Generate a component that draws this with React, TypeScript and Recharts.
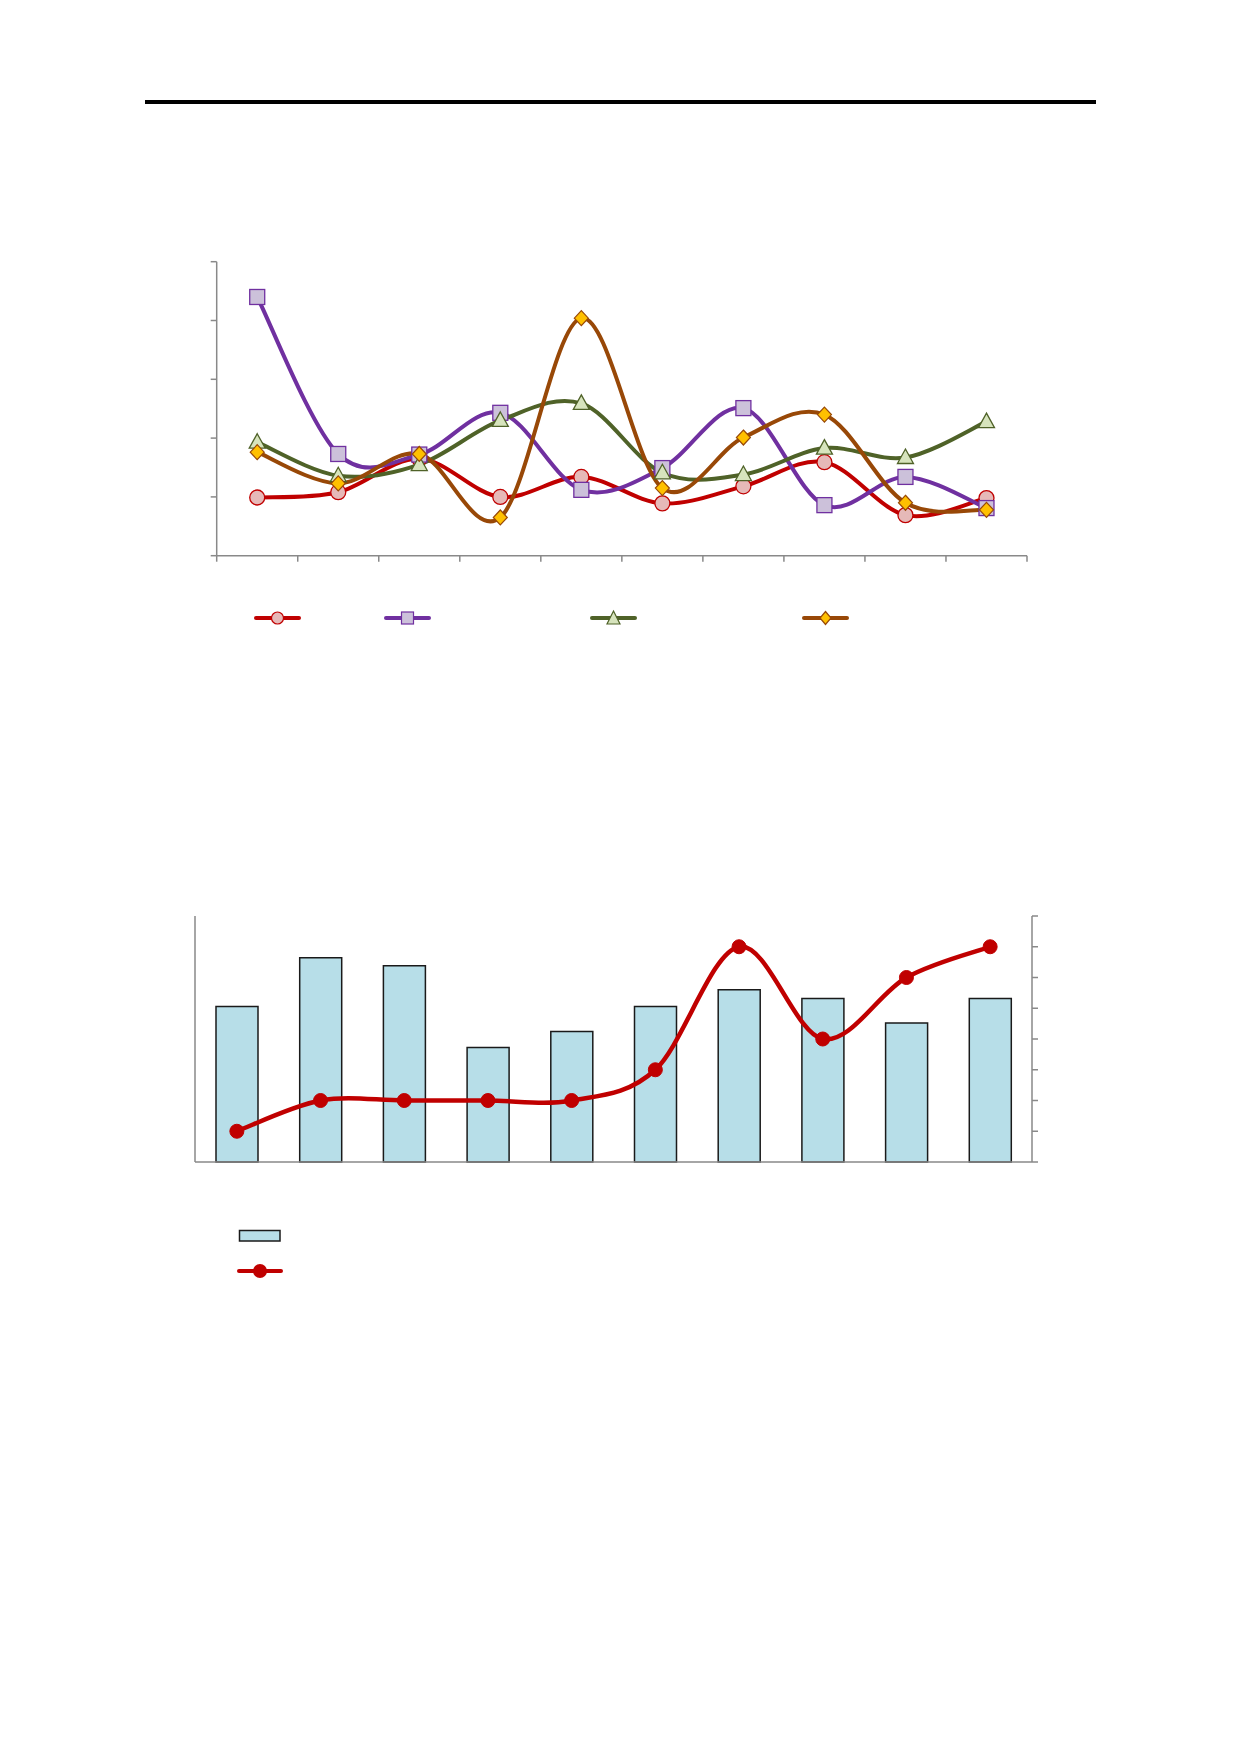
import React from 'react';
import { LineChart, Line, XAxis, YAxis, ComposedChart, Bar, Legend } from 'recharts';

// top chart: 10 periods, four series (no labels visible in the source)
const slots = [0.5, 1.5, 2.5, 3.5, 4.5, 5.5, 6.5, 7.5, 8.5, 9.5];
const slotTicks = [0, 1, 2, 3, 4, 5, 6, 7, 8, 9, 10];
const topTicks = [0, 1, 2, 3, 4, 5];
const seriesA = [0.99, 1.08, 1.65, 1.0, 1.34, 0.89, 1.18, 1.59, 0.69, 0.98];
const seriesB = [4.4, 1.73, 1.72, 2.43, 1.12, 1.49, 2.51, 0.86, 1.34, 0.81];
const seriesC = [1.93, 1.36, 1.55, 2.3, 2.59, 1.41, 1.38, 1.83, 1.67, 2.28];
const seriesD = [1.76, 1.23, 1.73, 0.65, 4.04, 1.15, 2.01, 2.4, 0.9, 0.78];

// bottom chart: bars on hidden left scale, line on right scale
const periods = ['1', '2', '3', '4', '5', '6', '7', '8', '9', '10'];
const barValues = [25.3, 33.2, 31.9, 18.6, 21.2, 25.3, 28.0, 26.6, 22.6, 26.6];
const lineValues = [1, 2, 2, 2, 2, 3, 7, 4, 6, 7];
const rightTicks = [0, 1, 2, 3, 4, 5, 6, 7, 8];

const topData = slots.map((x, i) => ({ x, a: seriesA[i], b: seriesB[i], c: seriesC[i], d: seriesD[i] }));
const bottomData = periods.map((p, i) => ({ p, bar: barValues[i], line: lineValues[i] }));

const AXIS = '#898989';
const RED = '#C00000';
const PURPLE = '#7030A0';
const GREEN = '#4F6228';
const ORANGE = '#984807';

// Excel-like smoothed line (bezier through points, 1/6 tangents)
const smooth = (context: any) => {
  let pts: [number, number][] = [];
  return {
    areaStart() {},
    areaEnd() {},
    lineStart() {
      pts = [];
    },
    lineEnd() {
      if (!pts.length) return;
      context.moveTo(pts[0][0], pts[0][1]);
      for (let i = 0; i < pts.length - 1; i++) {
        const p0 = pts[i - 1] || pts[i];
        const p1 = pts[i];
        const p2 = pts[i + 1];
        const p3 = pts[i + 2] || p2;
        context.bezierCurveTo(
          p1[0] + (p2[0] - p0[0]) / 6,
          p1[1] + (p2[1] - p0[1]) / 6,
          p2[0] - (p3[0] - p1[0]) / 6,
          p2[1] - (p3[1] - p1[1]) / 6,
          p2[0],
          p2[1]
        );
      }
    },
    point(x: number, y: number) {
      pts.push([x, y]);
    },
  };
};

const drawMarker = (kind: string, cx: number, cy: number, key?: any) => {
  if (kind === 'circle')
    return <circle key={key} cx={cx} cy={cy} r={7.5} fill="#E6B9B8" stroke={RED} strokeWidth={1.3} />;
  if (kind === 'square')
    return <rect key={key} x={cx - 7.5} y={cy - 7.5} width={15} height={15} fill="#CCC1DA" stroke={PURPLE} strokeWidth={1.3} />;
  if (kind === 'triangle')
    return (
      <path key={key} d={`M${cx},${cy - 8.5}L${cx + 8},${cy + 6}L${cx - 8},${cy + 6}Z`} fill="#D7E4BD" stroke={GREEN} strokeWidth={1.3} />
    );
  return (
    <path key={key} d={`M${cx},${cy - 7.5}L${cx + 7},${cy}L${cx},${cy + 7.5}L${cx - 7},${cy}Z`} fill="#FFC000" stroke={ORANGE} strokeWidth={1.2} />
  );
};

const markerDot = (kind: string) => (props: any) => drawMarker(kind, props.cx, props.cy, props.key ?? props.index);

const topLegendItems = [
  { x: 256, color: RED, kind: 'circle' },
  { x: 386, color: PURPLE, kind: 'square' },
  { x: 592, color: GREEN, kind: 'triangle' },
  { x: 804, color: ORANGE, kind: 'diamond' },
];

const TopLegend = () => (
  <svg width={1240} height={30}>
    {topLegendItems.map((it, i) => (
      <g key={i}>
        <line x1={it.x} x2={it.x + 43} y1={15} y2={15} stroke={it.color} strokeWidth={4} strokeLinecap="round" />
        {it.kind === 'circle' && <circle cx={it.x + 21.5} cy={15} r={6} fill="#E6B9B8" stroke={RED} strokeWidth={1.2} />}
        {it.kind === 'square' && <rect x={it.x + 15.5} y={9} width={12} height={12} fill="#CCC1DA" stroke={PURPLE} strokeWidth={1.2} />}
        {it.kind === 'triangle' && (
          <path d={`M${it.x + 21.5},${8}L${it.x + 28},${21}L${it.x + 15},${21}Z`} fill="#D7E4BD" stroke={GREEN} strokeWidth={1.2} />
        )}
        {it.kind === 'diamond' && (
          <path d={`M${it.x + 21.5},${8.5}L${it.x + 27},${15}L${it.x + 21.5},${21.5}L${it.x + 16},${15}Z`} fill="#FFC000" stroke={ORANGE} strokeWidth={1.2} />
        )}
      </g>
    ))}
  </svg>
);

const BottomLegend = () => (
  <svg width={300} height={70}>
    <rect x={239.5} y={10.5} width={40.5} height={10.5} fill="#B7DEE8" stroke="#1a1a1a" strokeWidth={1.5} />
    <line x1={239} x2={281} y1={51} y2={51} stroke={RED} strokeWidth={4} strokeLinecap="round" />
    <circle cx={260} cy={51} r={7} fill={RED} />
  </svg>
);

export default function App() {
  return (
    <div style={{ position: 'absolute', left: 0, top: 0, width: 1240, height: 1754, background: '#fff' }}>
      <div style={{ position: 'absolute', left: 145, top: 100, width: 951, height: 3.5, background: '#000' }} />

      <div style={{ position: 'absolute', left: 0, top: 200 }}>
        <LineChart width={1240} height={500} data={topData} margin={{ top: 61.7, right: 213, left: 176.7, bottom: 114.3 }}>
          <XAxis
            dataKey="x"
            type="number"
            domain={[0, 10]}
            ticks={slotTicks}
            tickFormatter={() => ''}
            height={30}
            tickSize={6}
            stroke={AXIS}
            strokeWidth={1.5}
          />
          <YAxis
            domain={[0, 5]}
            ticks={topTicks}
            tickFormatter={() => ''}
            width={40}
            tickSize={6}
            stroke={AXIS}
            strokeWidth={1.5}
          />
          <Line dataKey="a" type={smooth as any} stroke={RED} strokeWidth={4} dot={markerDot('circle')} activeDot={false} isAnimationActive={false} />
          <Line dataKey="b" type={smooth as any} stroke={PURPLE} strokeWidth={4} dot={markerDot('square')} activeDot={false} isAnimationActive={false} />
          <Line dataKey="c" type={smooth as any} stroke={GREEN} strokeWidth={4} dot={markerDot('triangle')} activeDot={false} isAnimationActive={false} />
          <Line dataKey="d" type={smooth as any} stroke={ORANGE} strokeWidth={4} dot={markerDot('diamond')} activeDot={false} isAnimationActive={false} />
          <Legend
            layout="horizontal"
            verticalAlign="middle"
            align="center"
            content={() => <TopLegend />}
            wrapperStyle={{ left: 0, top: 403, width: 1240, height: 30 }}
          />
        </LineChart>
      </div>

      <div style={{ position: 'absolute', left: 0, top: 800 }}>
        <ComposedChart width={1240} height={560} data={bottomData} margin={{ top: 116, right: 168, left: 155, bottom: 168 }}>
          <XAxis dataKey="p" tick={false} tickLine={false} height={30} stroke={AXIS} strokeWidth={1.5} />
          <YAxis yAxisId="left" domain={[0, 40]} tick={false} tickLine={false} width={40} stroke={AXIS} strokeWidth={1.5} />
          <YAxis
            yAxisId="right"
            orientation="right"
            domain={[0, 8]}
            ticks={rightTicks}
            tickFormatter={() => ''}
            width={40}
            tickSize={6}
            stroke={AXIS}
            strokeWidth={1.5}
          />
          <Bar yAxisId="left" dataKey="bar" barSize={42} fill="#B7DEE8" stroke="#1a1a1a" strokeWidth={1.5} isAnimationActive={false} />
          <Line
            yAxisId="right"
            dataKey="line"
            type={smooth as any}
            stroke={RED}
            strokeWidth={4.5}
            dot={{ r: 7, fill: RED, stroke: RED, strokeWidth: 1 }}
            activeDot={false}
            isAnimationActive={false}
          />
          <Legend
            layout="horizontal"
            verticalAlign="middle"
            align="center"
            content={() => <BottomLegend />}
            wrapperStyle={{ left: 0, top: 420, width: 300, height: 70 }}
          />
        </ComposedChart>
      </div>
    </div>
  );
}
